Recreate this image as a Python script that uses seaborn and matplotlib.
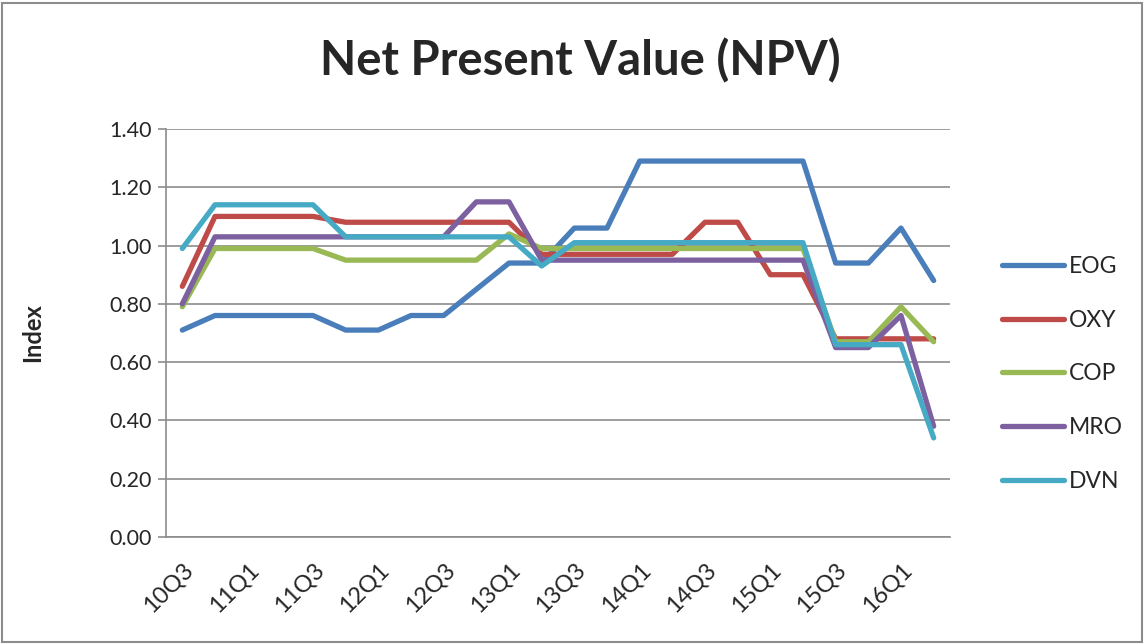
import pandas as pd
import matplotlib.pyplot as plt
import seaborn as sns
from matplotlib.patches import Rectangle

quarters = ["10Q3", "10Q4",
            "11Q1", "11Q2", "11Q3", "11Q4",
            "12Q1", "12Q2", "12Q3", "12Q4",
            "13Q1", "13Q2", "13Q3", "13Q4",
            "14Q1", "14Q2", "14Q3", "14Q4",
            "15Q1", "15Q2", "15Q3", "15Q4",
            "16Q1", "16Q2"]

eog = [0.71, 0.76, 0.76, 0.76, 0.76, 0.71, 0.71, 0.76, 0.76, 0.85, 0.94, 0.94,
       1.06, 1.06, 1.29, 1.29, 1.29, 1.29, 1.29, 1.29, 0.94, 0.94, 1.06, 0.88]
oxy = [0.86, 1.10, 1.10, 1.10, 1.10, 1.08, 1.08, 1.08, 1.08, 1.08, 1.08, 0.97,
       0.97, 0.97, 0.97, 0.97, 1.08, 1.08, 0.90, 0.90, 0.68, 0.68, 0.68, 0.68]
cop = [0.79, 0.99, 0.99, 0.99, 0.99, 0.95, 0.95, 0.95, 0.95, 0.95, 1.04, 0.99,
       0.99, 0.99, 0.99, 0.99, 0.99, 0.99, 0.99, 0.99, 0.67, 0.67, 0.79, 0.67]
mro = [0.80, 1.03, 1.03, 1.03, 1.03, 1.03, 1.03, 1.03, 1.03, 1.15, 1.15, 0.95,
       0.95, 0.95, 0.95, 0.95, 0.95, 0.95, 0.95, 0.95, 0.65, 0.65, 0.76, 0.38]
dvn = [0.99, 1.14, 1.14, 1.14, 1.14, 1.03, 1.03, 1.03, 1.03, 1.03, 1.03, 0.93,
       1.01, 1.01, 1.01, 1.01, 1.01, 1.01, 1.01, 1.01, 0.66, 0.66, 0.66, 0.34]

companies = ["EOG", "OXY", "COP", "MRO", "DVN"]
colors = ["#4A7EBB", "#BE4B48", "#98B954", "#7D60A0", "#46AAC5"]

frames = []
for name, vals in zip(companies, [eog, oxy, cop, mro, dvn]):
    frames.append(pd.DataFrame({"pos": range(len(quarters)), "value": vals, "company": name}))
df = pd.concat(frames, ignore_index=True)

sns.set_style("white")
plt.rcParams["font.family"] = ["Lato", "DejaVu Sans"]

fig = plt.figure(figsize=(11.45, 6.44), dpi=100)
ax = fig.add_axes([166 / 1145, 1 - 537 / 644, (950 - 166) / 1145, (537 - 129) / 644])

sns.lineplot(data=df, x="pos", y="value", hue="company", hue_order=companies,
             palette=colors, linewidth=3.8, ax=ax, sort=False)

ax.set_xlim(-0.5, len(quarters) - 0.5)
ax.set_ylim(0, 1.4)
ax.set_yticks([0, 0.2, 0.4, 0.6, 0.8, 1.0, 1.2, 1.4])
ax.set_yticklabels(["{:.2f}".format(v) for v in ax.get_yticks()], fontsize=15.5)
ax.yaxis.grid(True, color="#8c8c8c", linewidth=1.2)
ax.set_axisbelow(True)

ax.set_xticks(range(0, len(quarters), 2))
ax.set_xticklabels(quarters[::2], rotation=45, ha="right", rotation_mode="anchor", fontsize=17)
ax.set_xticks([i - 0.5 for i in range(len(quarters) + 1)], minor=True)
ax.tick_params(axis="x", which="major", length=0, pad=16)
ax.tick_params(axis="x", which="minor", length=6, color="#8c8c8c", width=1.2, direction="out")
ax.tick_params(axis="y", length=6, color="#8c8c8c", width=1.2, direction="out", pad=4, left=True)

for side in ["top", "right"]:
    ax.spines[side].set_visible(False)
for side in ["left", "bottom"]:
    ax.spines[side].set_color("#8c8c8c")
    ax.spines[side].set_linewidth(1.2)

ax.set_xlabel("")
ax.set_ylabel("Index", fontsize=17, fontweight="bold")
ax.yaxis.set_label_coords(-0.155, 0.5)

fig.text(0.507, 0.905, "Net Present Value (NPV)", ha="center", va="center",
         fontsize=34, fontweight="bold")

ax.legend(loc="center left", bbox_to_anchor=(1.04, 0.40), frameon=False,
          fontsize=16.5, handlelength=2.7, labelspacing=1.43, handletextpad=0.2)
for line in ax.get_legend().get_lines():
    line.set_linewidth(3.8)

fig.patches.append(Rectangle((0.002, 0.003), 0.995, 0.993, transform=fig.transFigure,
                             fill=False, edgecolor="#8c8c8c", linewidth=1.5))

fig.savefig("out.png", dpi=100)
plt.close()
